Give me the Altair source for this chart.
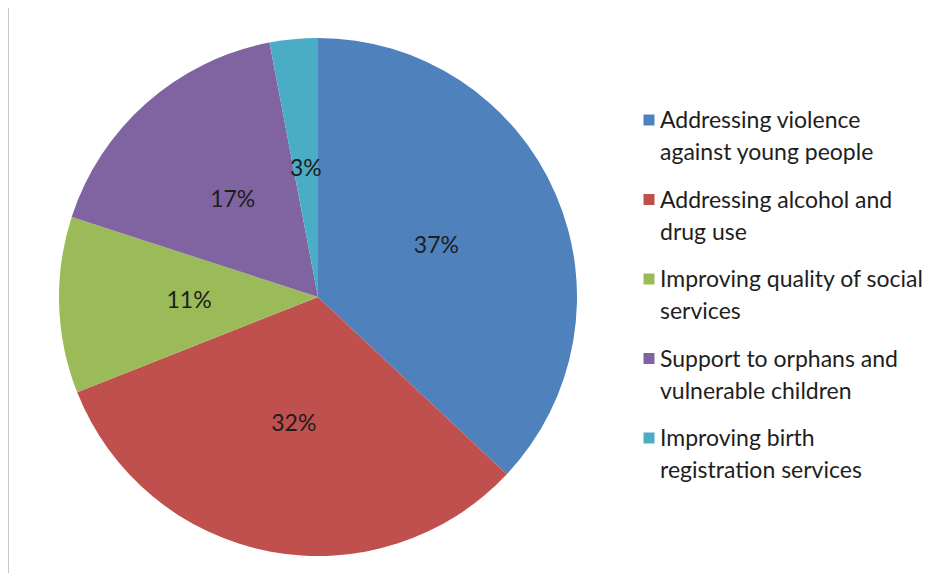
import altair as alt
import pandas as pd

categories = [
    "Addressing violence against young people",
    "Addressing alcohol and drug use",
    "Improving quality of social services",
    "Support to orphans and vulnerable children",
    "Improving birth registration services",
]
line1 = [
    "Addressing violence",
    "Addressing alcohol and",
    "Improving quality of social",
    "Support to orphans and",
    "Improving birth",
]
line2 = [
    "against young people",
    "drug use",
    "services",
    "vulnerable children",
    "registration services",
]
values = [37, 32, 11, 17, 3]
colors = ["#4F81BD", "#C0504D", "#9BBB59", "#8064A2", "#4BACC6"]

df = pd.DataFrame({
    "cat": categories,
    "idx": list(range(len(categories))),
    "value": values,
    "label": [f"{v}%" for v in values],
    "line1": line1,
    "line2": line2,
})

FONT = "Lato"
TXT = "#1e1e1e"
CX, CY, R = 310, 289, 259

color = alt.Color("cat:N", scale=alt.Scale(domain=categories, range=colors), legend=None)
theta = alt.Theta("value:Q", stack=True)
order = alt.Order("idx:Q")

base = alt.Chart(df)

pie = base.mark_arc(outerRadius=R).encode(
    theta=theta, color=color, order=order,
    x=alt.value(CX), y=alt.value(CY),
)

pct = base.mark_text(radius=129, fontSize=23, font=FONT, color=TXT).encode(
    theta=theta, order=order, text="label:N",
    x=alt.value(CX), y=alt.value(CY),
)

ly = alt.Y("idx:Q", scale=alt.Scale(domain=[0, 4], range=[112, 430]), axis=None)

squares = base.mark_square(size=121, opacity=1).encode(
    x=alt.value(641), y=ly, color=color,
)

t1 = base.mark_text(align="left", baseline="middle", dy=1, fontSize=23, font=FONT, color=TXT).encode(
    x=alt.value(652), y=ly, text="line1:N",
)
t2 = base.mark_text(align="left", baseline="middle", dy=33, fontSize=23, font=FONT, color=TXT).encode(
    x=alt.value(652), y=ly, text="line2:N",
)

border = alt.Chart(df.head(1)).mark_rule(color="#c8c8c8", strokeWidth=1).encode(
    x=alt.value(0.5), y=alt.value(0), y2=alt.value(565),
)

chart = alt.layer(border, pie, pct, squares, t1, t2).properties(
    width=930, height=565, autosize=alt.AutoSizeParams(type="none"), padding=0,
).configure_view(stroke=None)

chart.save("out.html", embed_options={"renderer": "svg", "actions": False})
